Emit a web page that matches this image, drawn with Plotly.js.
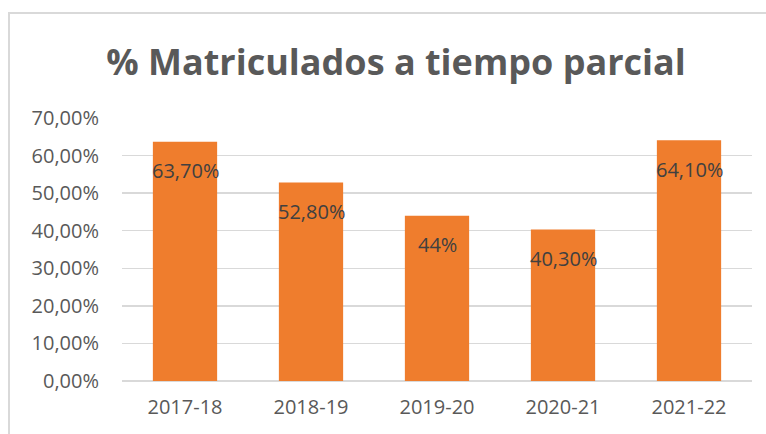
<!DOCTYPE html>
<html>
<head>
<meta charset="utf-8">
<script src="https://cdn.plot.ly/plotly-3.0.1.min.js"></script>
<style>
html,body{margin:0;padding:0;background:#fff;}
#wrap{position:relative;width:766px;height:434px;overflow:hidden;}
#chart{position:absolute;left:0;top:0;width:766px;height:434px;}
#frame{position:absolute;left:8px;top:12px;width:800px;height:500px;border-left:2px solid #d9d9d9;border-top:2px solid #d9d9d9;pointer-events:none;}
</style>
</head>
<body>
<div id="wrap"><div id="chart"></div><div id="frame"></div></div>
<script>
const categories = ["2017-18", "2018-19", "2019-20", "2020-21", "2021-22"];
const values = [0.637, 0.528, 0.44, 0.403, 0.641];
const valueLabels = ["63,70%", "52,80%", "44%", "40,30%", "64,10%"];
const yTickVals = [0, 0.1, 0.2, 0.3, 0.4, 0.5, 0.6, 0.7];
const yTickText = ["0,00%", "10,00%", "20,00%", "30,00%", "40,00%", "50,00%", "60,00%", "70,00%"];
const titleText = "% Matriculados a tiempo parcial";

const trace = {
  type: "bar",
  x: categories,
  y: values,
  marker: {color: "#EF7D2D", line: {width: 0}},
  hoverinfo: "none"
};

const annotations = categories.map((c, i) => ({
  x: c, y: values[i], xref: "x", yref: "y",
  text: valueLabels[i], showarrow: false,
  yanchor: "middle", yshift: -29,
  font: {family: "Open Sans", size: 20, color: "#404040"}
}));

const layout = {
  width: 766, height: 434,
  margin: {l: 122, r: 14, t: 118, b: 53},
  paper_bgcolor: "#ffffff", plot_bgcolor: "#ffffff",
  showlegend: false,
  bargap: 0.49,
  title: {
    text: "<b>" + titleText + "</b>",
    xref: "container", yref: "container",
    x: 396 / 766, y: 1 - 62 / 434, xanchor: "center", yanchor: "middle",
    font: {family: "Open Sans", size: 36, color: "#595959"}
  },
  xaxis: {
    type: "category",
    showgrid: false, zeroline: false,
    showline: false, ticks: "",
    tickfont: {family: "Open Sans", size: 20, color: "#595959"},
    ticklabelstandoff: 12
  },
  yaxis: {
    range: [0, 0.7],
    tickvals: yTickVals, ticktext: yTickText,
    showgrid: true, gridcolor: "#d9d9d9", gridwidth: 1.5,
    zeroline: true, zerolinecolor: "#d9d9d9", zerolinewidth: 1.5,
    showline: false, ticks: "",
    ticklabelstandoff: 22,
    tickfont: {family: "Open Sans", size: 20, color: "#595959"}
  },
  annotations: annotations
};

Plotly.newPlot("chart", [trace], layout, {displayModeBar: false, staticPlot: true});
</script>
</body>
</html>
